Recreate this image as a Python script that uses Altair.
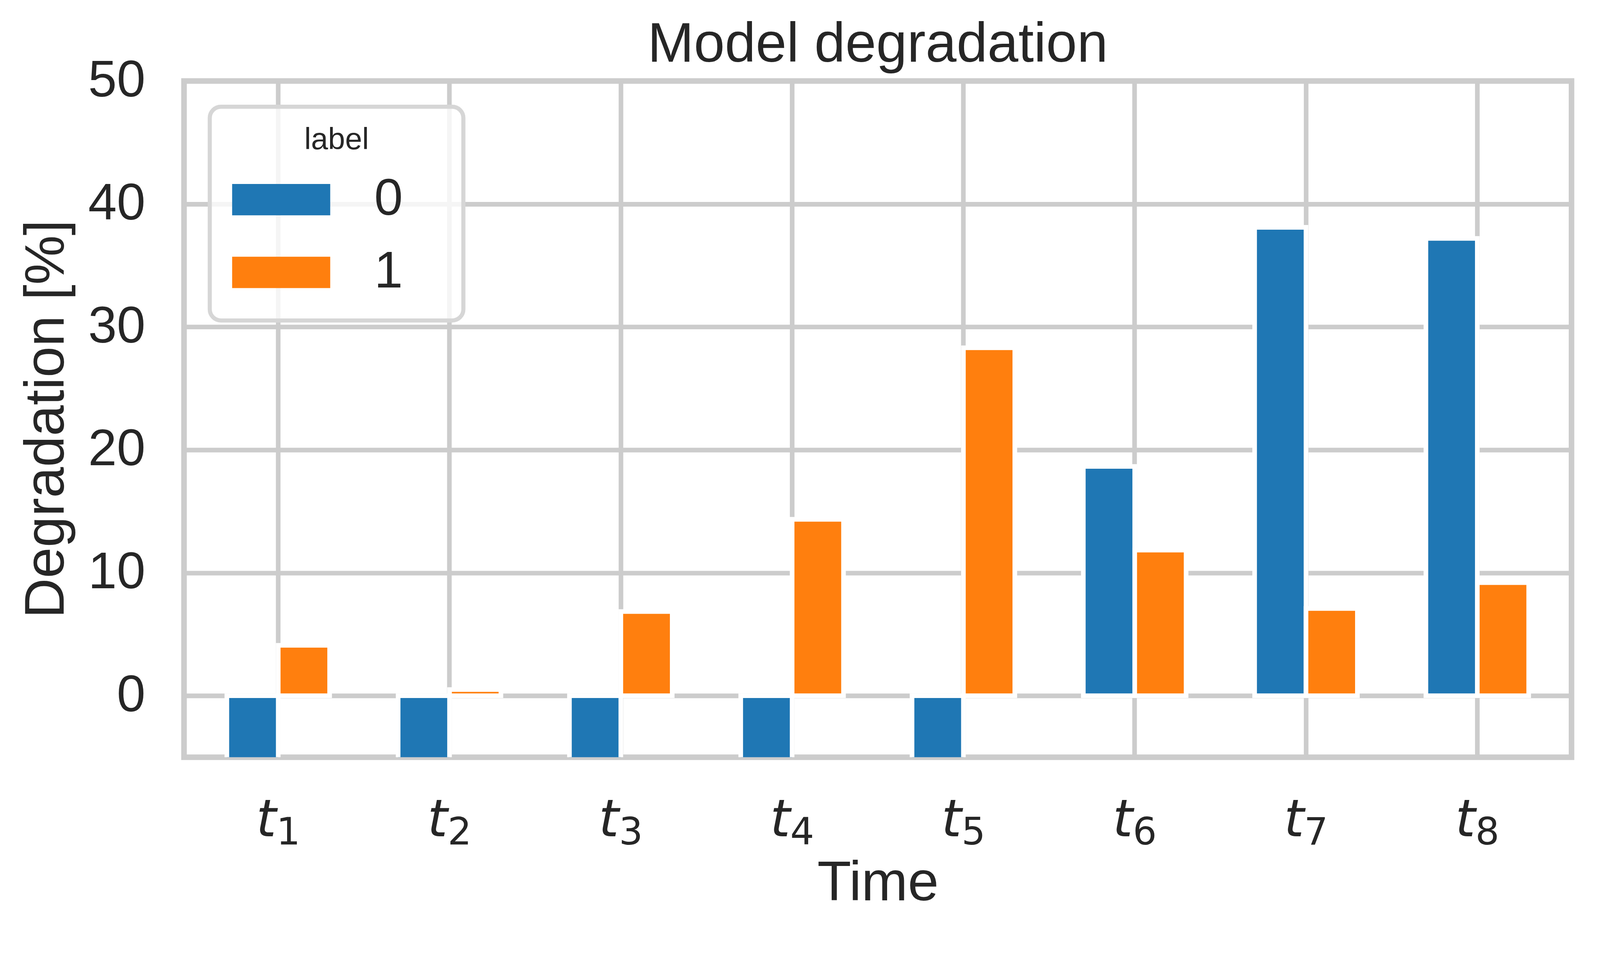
import altair as alt
import pandas as pd

# ---- data ----
time_keys = ["t1", "t2", "t3", "t4", "t5", "t6", "t7", "t8"]
time_subscripts = ["1", "2", "3", "4", "5", "6", "7", "8"]
labels = ["0", "1"]
label0_values = [-10, -10, -10, -10, -10, 18.65, 38.1, 37.2]   # negative bars clipped at -5
label1_values = [4.1, 0.5, 6.85, 14.35, 28.3, 11.85, 7.1, 9.2]
y_ticks = [0, 10, 20, 30, 40, 50]

rows = []
for i, t in enumerate(time_keys):
    rows.append({"time": t, "label": labels[0], "value": label0_values[i]})
    rows.append({"time": t, "label": labels[1], "value": label1_values[i]})
df = pd.DataFrame(rows)
tick_df = pd.DataFrame({"time": time_keys, "sub": time_subscripts})

TEXT = "#262626"
GRID = "#cccccc"
FONT = "Liberation Sans"
BLANK = "\u2800"   # blank (non-whitespace) glyph used to widen the legend frame
HAIR = "\u200a"

HANDLE = "M-1,-0.3194L1,-0.3194L1,0.3194L-1,0.3194Z"

x_enc = alt.X(
    "time:N", sort=time_keys, title="Time",
    scale=alt.Scale(paddingInner=0.4, paddingOuter=0.25),
    axis=alt.Axis(
        labels=False, ticks=False, tickSize=0, domain=False,
        grid=True, gridColor=GRID, gridWidth=12.4,
        titleFont=FONT, titleFontSize=149, titleFontWeight="normal",
        titleColor=TEXT, titleX=1860, titleY=383,
        titleBaseline="alphabetic", titleAlign="center",
    ),
)

bars = alt.Chart(df).mark_bar(stroke="white", strokeWidth=12.4, clip=True).encode(
    x=x_enc,
    xOffset=alt.XOffset("label:N", sort=labels,
                        scale=alt.Scale(paddingInner=0, paddingOuter=0)),
    y=alt.Y(
        "value:Q", title="Degradation [%]",
        scale=alt.Scale(domain=[-5, 50], nice=False),
        axis=alt.Axis(
            values=y_ticks, labelFont=FONT, labelFontSize=138, labelColor=TEXT,
            labelPadding=104, labelFlush=False, ticks=False, tickSize=0,
            domain=False, grid=True, gridColor=GRID, gridWidth=12.4,
            titleFont=FONT, titleFontSize=149, titleFontWeight="normal",
            titleColor=TEXT, titleX=-323, titleY=906, titleAngle=270,
            titleBaseline="alphabetic", titleAlign="center",
        ),
    ),
    y2=alt.datum(0),
    color=alt.Color(
        "label:N",
        scale=alt.Scale(domain=labels, range=["#1f77b4", "#ff7f0e"]),
        legend=alt.Legend(
            orient="none", legendX=69, legendY=69,
            title=BLANK * 3 + "label" + BLANK * 3,
            titleFont=FONT, titleFontSize=82, titleFontWeight="normal",
            titleColor=TEXT, titleAnchor="middle", titlePadding=38,
            titleLimit=0,
            labelFont=FONT, labelFontSize=138, labelColor=TEXT,
            labelLimit=0, labelOffset=118,
            labelExpr="datum.label + '" + HAIR + BLANK + "'",
            symbolType=HANDLE, symbolSize=69169, symbolStrokeWidth=0,
            symbolOpacity=1,
            clipHeight=160, rowPadding=35, padding=49, symbolOffset=11,
            fillColor="rgba(255,255,255,0.8)", strokeColor="#d6d6d6",
            cornerRadius=30,
        ),
    ),
)

# x tick labels: italic "t" with an upright subscript index (as in mathtext)
tick_t = alt.Chart(tick_df).mark_text(
    text="t", font="DejaVu Sans", fontStyle="italic", fontSize=138,
    color=TEXT, align="right", baseline="alphabetic", dx=-5,
).encode(x=x_enc, y=alt.value(2025))

tick_sub = alt.Chart(tick_df).mark_text(
    font="DejaVu Sans", fontSize=101, color=TEXT, align="left",
    baseline="alphabetic", dx=-5,
).encode(x=x_enc, y=alt.value(2047), text="sub:N")

chart = alt.layer(bars, tick_t, tick_sub).properties(
    width=3720,
    height=1813,
    autosize=alt.AutoSizeParams(type="none"),
    padding={"left": 485, "top": 152, "right": 68, "bottom": 440},
    background="white",
    title=alt.TitleParams(
        "Model degradation", font=FONT, fontSize=149, fontWeight="normal",
        color=TEXT, anchor="middle", frame="group", baseline="alphabetic",
        offset=-166,
    ),
).configure_view(
    stroke=GRID, strokeWidth=15
).configure_legend(
    strokeWidth=11
)

chart.save("out.html", embed_options={"renderer": "svg", "actions": False})
